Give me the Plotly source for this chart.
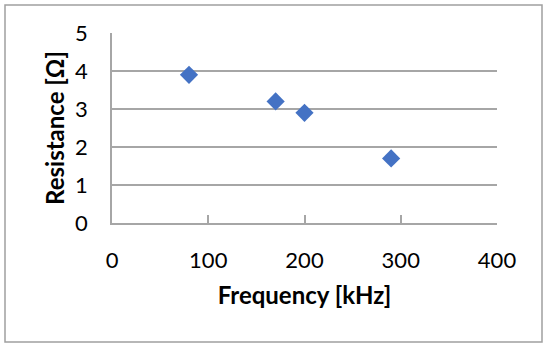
import plotly.graph_objects as go

frequency_khz = [80, 170, 200, 290]
resistance_ohm = [3.9, 3.2, 2.9, 1.7]
x_ticks = [0, 100, 200, 300, 400]
y_ticks = [0, 1, 2, 3, 4, 5]

W, H = 550, 349
L, R, T, B = 112, 53, 33, 126
pw, ph = W - L - R, H - T - B

fig = go.Figure(go.Scatter(
    x=frequency_khz, y=resistance_ohm, mode="markers",
    marker=dict(symbol="diamond", size=14, color="#4472C4"),
))

grid = "#a6a6a6"
fig.update_layout(
    width=W, height=H,
    margin=dict(l=L, r=R, t=T, b=B, autoexpand=False),
    paper_bgcolor="white", plot_bgcolor="white",
    font=dict(family="Lato, Noto Sans, sans-serif", size=22, color="#000000"),
    showlegend=False,
    xaxis=dict(
        range=[0, 400], tickvals=x_ticks, showgrid=False, zeroline=False,
        showline=True, linecolor=grid, linewidth=1.5,
        ticks="inside", ticklen=8, tickcolor=grid, tickwidth=1.5,
        title=dict(text="<b>Frequency [kHz]</b>", standoff=15, font=dict(size=24)),
        ticklabelstandoff=17, automargin=False,
    ),
    yaxis=dict(
        range=[0, 5], tickvals=y_ticks, showgrid=True, gridcolor=grid, gridwidth=1.5,
        zeroline=False, showline=True, linecolor=grid, linewidth=1.5,
        title=dict(text="<b>Resistance [Ω]</b>", standoff=4, font=dict(size=24)),
        ticklabelstandoff=18, automargin=False,
    ),
    shapes=[dict(
        type="rect", xref="paper", yref="paper",
        x0=(5 - L) / pw, x1=(542 - L) / pw,
        y0=(H - B - 342) / ph, y1=(H - B - 5) / ph,
        line=dict(color="#a0a0a0", width=1.5), layer="below",
    )],
)

fig.write_html(
    "out.html",
    config={"displayModeBar": False},
    post_script="document.body.style.margin='0';document.body.style.padding='0';",
)
